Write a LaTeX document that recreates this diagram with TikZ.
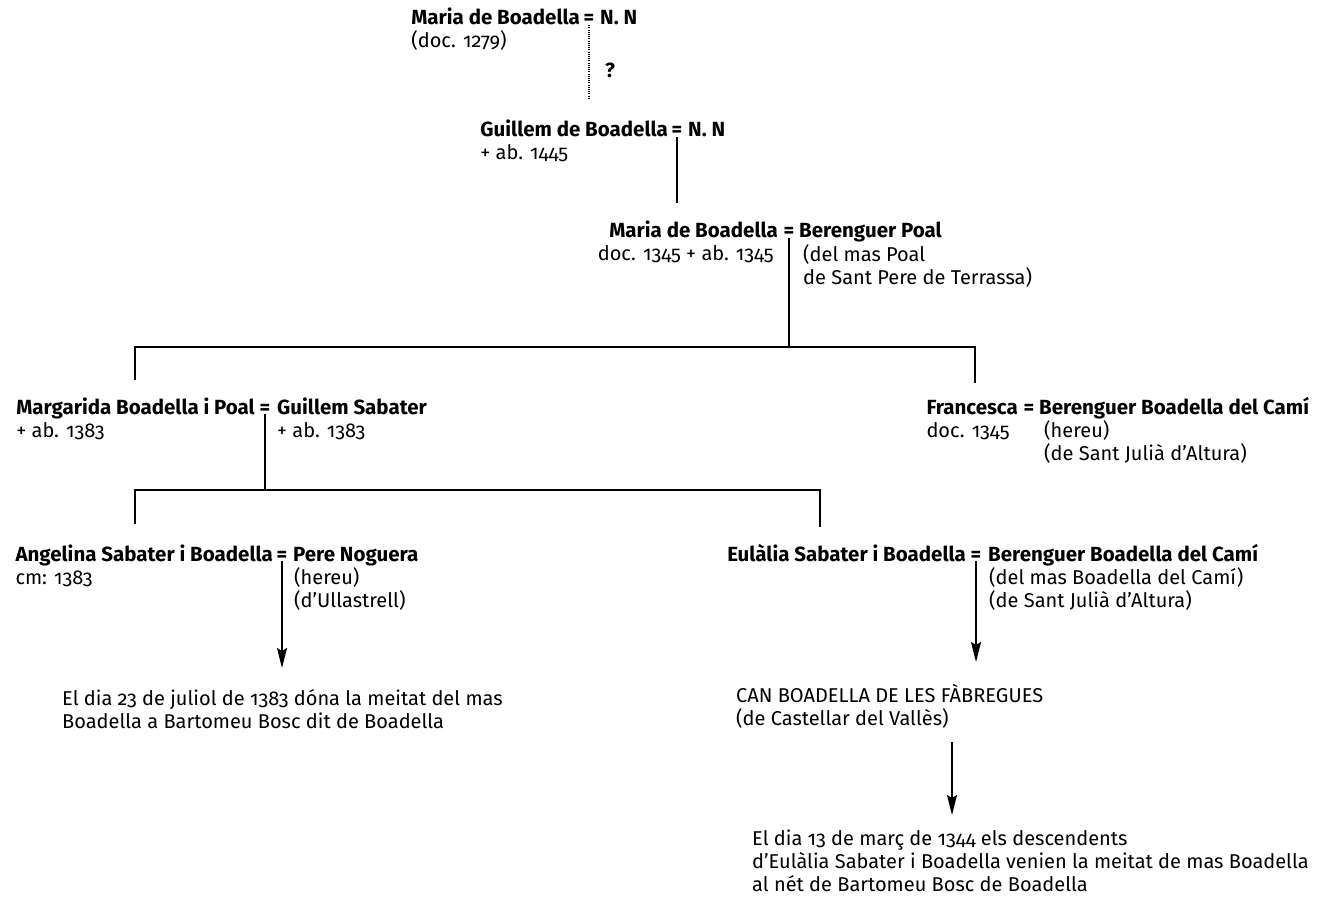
\documentclass[tikz,border=0pt]{standalone}
\usepackage{fontspec}
\setmainfont[Numbers=OldStyle]{Fira Sans}
\usetikzlibrary{arrows.meta}
\tikzstyle{every node}=[inner sep=0pt,font=\fontsize{20}{23}\selectfont,align=left]
\tikzstyle{nom}=[font=\fontsize{20.5}{23}\selectfont\bfseries]
\tikzstyle{casat}=[nom,anchor=base]
\tikzstyle{dona}=[nom,anchor=base east]
\tikzstyle{home}=[nom,anchor=base west]
\tikzstyle{nota}=[anchor=base west]
\tikzstyle{linia}=[line width=1.5pt]
\tikzstyle{fletxa}=[linia,-{Stealth[length=20pt,width=10pt,inset=3pt]}]

\begin{document}
\begin{tikzpicture}[x=1pt,y=-1pt]
\useasboundingbox (0,0) rectangle (1320,904);
\node[casat] (eq1) at (589,25) {=};
\node[dona] (maria1) at ([xshift=-9pt]eq1.base) {Maria de Boadella};
\node[home] (nn1) at ([xshift=11pt]eq1.base) {N. N};
\node[nota] (doc1) at ([yshift=-23pt]maria1.base west) {(doc. 1279)};
\node[nom] (interr) at (610,70) {?};
\coordinate (p1) at (589,98);
\draw[line width=1.2pt,dash pattern=on 1pt off 1.2pt] (eq1.south) -- (p1);

\node[casat] (eq2) at (677,137) {=};
\node[dona] (guillem) at ([xshift=-9pt]eq2.base) {Guillem de Boadella};
\node[home] (nn2) at ([xshift=11pt]eq2.base) {N. N};
\node[nota] (doc2) at ([yshift=-23pt]guillem.base west) {+ ab. 1445};
\coordinate (p2) at (677,203);
\draw[linia] (eq2.south) -- (p2);

\node[casat] (eq3) at (789,238) {=};
\node[dona] (maria3) at ([xshift=-11pt]eq3.base) {Maria de Boadella};
\node[home] (poal) at ([xshift=10pt]eq3.base) {Berenguer Poal};
\node[nota,anchor=base east] (doc3) at ([xshift=-4pt,yshift=-23pt]maria3.base east) {doc. 1345 + ab. 1345};
\node[nota] (doc3b) at ([xshift=4pt,yshift=-46pt]poal.base west) {(del mas Poal\\de Sant Pere de Terrassa)};
\coordinate (c3) at (789,347);
\coordinate (b1) at (135,380);
\coordinate (b2) at (975,383);
\draw[linia] (eq3.south) -- (c3);
\draw[linia] (b1) |- (c3) -| (b2);

\node[casat] (eq4) at (265,414) {=};
\node[dona] (margarida) at ([xshift=-10pt]eq4.base) {Margarida Boadella i Poal};
\node[home] (sabater) at ([xshift=12pt]eq4.base) {Guillem Sabater};
\node[nota] (doc4) at ([yshift=-23pt]margarida.base west) {+ ab. 1383};
\node[nota] (doc4b) at ([yshift=-23pt]sabater.base west) {+ ab. 1383};

\node[casat] (eq5) at (1029,414) {=};
\node[dona] (francesca) at ([xshift=-11pt]eq5.base) {Francesca};
\node[home] (cami1) at ([xshift=10pt]eq5.base) {Berenguer Boadella del Camí};
\node[nota] (doc5) at ([yshift=-23pt]francesca.base west) {doc. 1345};
\node[nota] (doc5b) at ([xshift=5pt,yshift=-46pt]cami1.base west) {(hereu)\\(de Sant Julià d’Altura)};

\coordinate (c4) at (265,490);
\coordinate (b3) at (135,524);
\coordinate (b4) at (820,527);
\draw[linia] (eq4.south) -- (c4);
\draw[linia] (b3) |- (c4) -| (b4);

\node[casat] (eq6) at (282,561) {=};
\node[dona] (angelina) at ([xshift=-9pt]eq6.base) {Angelina Sabater i Boadella};
\node[home] (noguera) at ([xshift=11pt]eq6.base) {Pere Noguera};
\node[nota] (doc6) at ([yshift=-23pt]angelina.base west) {cm: 1383};
\node[nota] (doc6b) at ([xshift=1pt,yshift=-46pt]noguera.base west) {(hereu)\\(d’Ullastrell)};
\coordinate (f1) at (282,668);
\draw[fletxa] (eq6.south) -- (f1);
\node[nota] (venda1) at (62,728) {El dia 23 de juliol de 1383 dóna la meitat del mas\\Boadella a Bartomeu Bosc dit de Boadella};

\node[casat] (eq7) at (976,561) {=};
\node[dona] (eulalia) at ([xshift=-10pt]eq7.base) {Eulàlia Sabater i Boadella};
\node[home] (cami2) at ([xshift=12pt]eq7.base) {Berenguer Boadella del Camí};
\node[nota] (doc7) at ([xshift=1pt,yshift=-46pt]cami2.base west) {(del mas Boadella del Camí)\\(de Sant Julià d’Altura)};
\coordinate (f2) at (976,662);
\draw[fletxa] (eq7.south) -- (f2);

\node[nota] (can) at (736,725) {CAN BOADELLA DE LES FÀBREGUES\\(de Castellar del Vallès)};
\coordinate (f3) at (952,815);
\draw[fletxa] ([yshift=-14pt]can.south -| f3) -- (f3);
\node[nota] (venda2) at (752,891) {El dia 13 de març de 1344 els descendents\\d’Eulàlia Sabater i Boadella venien la meitat de mas Boadella\\al nét de Bartomeu Bosc de Boadella};
\end{tikzpicture}
\end{document}
